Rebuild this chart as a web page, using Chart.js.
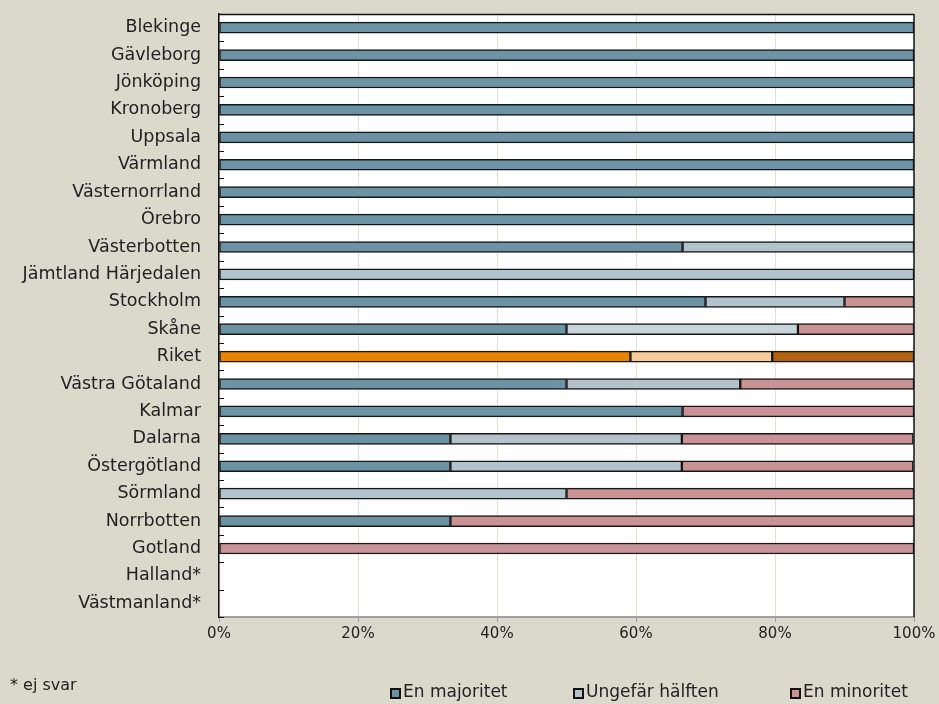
<!DOCTYPE html>
<html>
<head>
<meta charset="utf-8">
<script src="https://cdn.jsdelivr.net/npm/chart.js@4"></script>
<style>
  html, body { margin: 0; padding: 0; background: #dbd8cc; }
  #wrap { width: 939px; height: 704px; position: relative; }
</style>
</head>
<body>
<div id="wrap"><canvas id="c"></canvas></div>
<script>
// Regions, top to bottom
const regions = [
  'Blekinge', 'Gävleborg', 'Jönköping', 'Kronoberg', 'Uppsala', 'Värmland',
  'Västernorrland', 'Örebro', 'Västerbotten', 'Jämtland Härjedalen', 'Stockholm',
  'Skåne', 'Riket', 'Västra Götaland', 'Kalmar', 'Dalarna', 'Östergötland',
  'Sörmland', 'Norrbotten', 'Gotland', 'Halland*', 'Västmanland*'
];

// Share of answers per region (%)
const enMajoritet    = [100, 100, 100, 100, 100, 100, 100, 100, 66.7, 0, 70, 50, 59.2, 50, 66.7, 33.3, 33.3, 0, 33.3, 0, null, null];
const ungefarHalften = [0, 0, 0, 0, 0, 0, 0, 0, 33.3, 100, 20, 33.3, 20.4, 25, 0, 33.3, 33.3, 50, 0, 0, null, null];
const enMinoritet    = [0, 0, 0, 0, 0, 0, 0, 0, 0, 0, 10, 16.7, 20.4, 25, 33.3, 33.3, 33.3, 50, 66.7, 100, null, null];

const seriesNames = ['En majoritet', 'Ungefär hälften', 'En minoritet'];
const xTicks = [0, 20, 40, 60, 80, 100];
const footnote = '* ej svar';

// Colours: regions use blue-grey / pale blue / rose, the national total uses oranges
const regionColors = ['#6c93a4', '#b2c3cc', '#c99295'];
const riketColors  = ['#e98300', '#f6cd98', '#b0620f'];

function colorsFor(seriesIdx) {
  return regions.map(r => {
    if (r === 'Riket') return riketColors[seriesIdx];
    if (r === 'Skåne' && seriesIdx === 1) return '#c7d4db';
    return regionColors[seriesIdx];
  });
}

const FONT = "'DejaVu Sans', sans-serif";
const TEXT = '#222222';

const values = [enMajoritet, ungefarHalften, enMinoritet];
const datasets = seriesNames.map((name, i) => ({
  label: name,
  data: values[i],
  backgroundColor: colorsFor(i),
  borderColor: '#161616',
  borderWidth: 1.5,
  borderSkipped: false,
  barThickness: 11
}));

// White plot area, black frame, inner category ticks, legend and footnote
const decorations = {
  id: 'decorations',
  beforeDraw(chart) {
    const { ctx, chartArea: a } = chart;
    ctx.save();
    ctx.fillStyle = '#ffffff';
    ctx.fillRect(a.left, a.top, a.right - a.left, a.bottom - a.top);
    ctx.restore();
  },
  afterDraw(chart) {
    const { ctx, chartArea: a } = chart;
    const y = chart.scales.y;
    ctx.save();
    // frame on top and right
    ctx.strokeStyle = '#111';
    ctx.lineWidth = 1.5;
    ctx.beginPath();
    ctx.moveTo(a.left, a.top + 0.5);
    ctx.lineTo(a.right, a.top + 0.5);
    ctx.lineTo(a.right, a.bottom);
    ctx.stroke();
    // category ticks pointing inwards
    ctx.lineWidth = 1;
    for (let i = 0; i <= regions.length; i++) {
      const py = Math.round(y.getPixelForValue(i - 0.5)) + 0.5;
      ctx.beginPath();
      ctx.moveTo(a.left, py);
      ctx.lineTo(a.left + 5, py);
      ctx.stroke();
    }
    // legend
    ctx.font = '17px ' + FONT;
    ctx.textBaseline = 'middle';
    ctx.textAlign = 'left';
    const legendX = [390, 573, 790];
    const legendY = 693;
    chart.data.datasets.forEach((ds, i) => {
      const x = legendX[i];
      ctx.fillStyle = ds.backgroundColor[0];
      ctx.fillRect(x, legendY - 5, 11, 11);
      ctx.strokeStyle = '#111';
      ctx.lineWidth = 2;
      ctx.strokeRect(x + 1, legendY - 4, 9, 9);
      ctx.fillStyle = TEXT;
      ctx.fillText(ds.label, x + 13, legendY);
    });
    // footnote
    ctx.font = '16px ' + FONT;
    ctx.fillText(footnote, 10, 686);
    ctx.restore();
  }
};

new Chart(document.getElementById('c'), {
  type: 'bar',
  data: { labels: regions, datasets },
  options: {
    indexAxis: 'y',
    responsive: true,
    maintainAspectRatio: false,
    animation: false,
    layout: { padding: { top: 14, right: 25, bottom: 57, left: 0 } },
    plugins: {
      legend: { display: false },
      tooltip: { enabled: false }
    },
    scales: {
      x: {
        stacked: true,
        min: 0,
        max: 100,
        afterBuildTicks(scale) { scale.ticks = xTicks.map(v => ({ value: v })); },
        ticks: {
          callback: v => v + '%',
          color: TEXT,
          font: { family: FONT, size: 15 },
          padding: 3,
          maxRotation: 0
        },
        grid: { color: '#e3e0d8', lineWidth: 1, tickLength: 5, tickColor: '#a0a0a0' },
        border: { color: '#a0a0a0', width: 2 },
        afterFit(scale) {
          scale.height = 30;
          scale.paddingLeft = 0;
          scale.paddingRight = 0;
        }
      },
      y: {
        stacked: true,
        ticks: {
          color: TEXT,
          font: { family: FONT, size: 17.5 },
          padding: 18,
          autoSkip: false
        },
        grid: { drawOnChartArea: false, drawTicks: false },
        border: { color: '#111', width: 1.5 },
        afterFit(scale) {
          scale.width = 219;
          scale.paddingTop = 0;
          scale.paddingBottom = 0;
        }
      }
    }
  },
  plugins: [decorations]
});
</script>
</body>
</html>
